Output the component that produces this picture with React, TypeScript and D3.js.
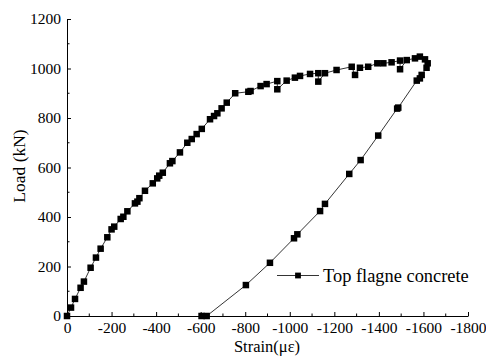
import React, { useRef, useEffect } from "react";
import * as d3 from "d3";

// strain (με) and load (kN) in loading order
const strain = [
  0, -18, -36, -61, -76, -106, -130, -151, -181, -200, -212, -241, -253, -271, -305, -316,
  -325, -350, -385, -405, -414, -430, -462, -473, -507, -540, -560, -582, -605, -642, -660,
  -675, -694, -717, -755, -814, -824, -869, -896, -944, -944, -986, -1023, -1046, -1091,
  -1128, -1128, -1158, -1210, -1278, -1293, -1315, -1352, -1393, -1420, -1457, -1495, -1495,
  -1525, -1562, -1584, -1607, -1619, -1614, -1592, -1584, -1570, -1487, -1482, -1397, -1318,
  -1267, -1158, -1136, -1034, -1019, -911, -803, -627, -604,
];
const load = [
  0, 34, 69, 114, 139, 195, 236, 272, 318, 350, 361, 392, 401, 423, 455, 462,
  476, 506, 536, 556, 567, 579, 617, 626, 661, 700, 715, 735, 756, 795, 808,
  819, 839, 862, 900, 906, 909, 929, 937, 949, 916, 951, 963, 970, 978,
  981, 947, 981, 994, 1007, 974, 1003, 1007, 1021, 1021, 1025, 1032, 997,
  1034, 1041, 1048, 1037, 1021, 1003, 974, 960, 951, 842, 838, 729, 630,
  574, 453, 424, 330, 314, 215, 125, 0, 0,
];
const xTicks = [0, -200, -400, -600, -800, -1000, -1200, -1400, -1600, -1800];
const yTicks = [0, 200, 400, 600, 800, 1000, 1200];
const seriesName = "Top flagne concrete";

const FONT = "Liberation Serif";

export default function App() {
  const ref = useRef<SVGSVGElement>(null);

  useEffect(() => {
    if (!ref.current) return;
    const svg = d3.select(ref.current);
    svg.selectAll("*").remove();

    const x = d3.scaleLinear().domain([0, -1800]).range([67, 468]);
    const y = d3.scaleLinear().domain([0, 1200]).range([316, 19]);

    const pts = strain.map((s, i) => ({ s, l: load[i] }));

    // axes
    const xAxis = d3.axisBottom(x).tickValues(xTicks).tickSizeInner(-4).tickSizeOuter(0).tickPadding(4)
      .tickFormat(d => String(d));
    const yAxis = d3.axisLeft(y).tickValues(yTicks).tickSizeInner(-4).tickSizeOuter(0).tickPadding(6)
      .tickFormat(d => String(d));

    const gx = svg.append("g").attr("transform", `translate(0,${y(0)})`).call(xAxis);
    const gy = svg.append("g").attr("transform", `translate(${x(0)},0)`).call(yAxis);
    [gx, gy].forEach(g => {
      g.attr("font-family", FONT).attr("font-size", 15.5);
      g.selectAll("text").attr("fill", "#000");
      g.selectAll("line,path").attr("stroke", "#000");
    });
    gx.selectAll("text").attr("dy", "0.82em");

    // minor ticks
    d3.range(-100, -1800, -200).forEach(v => {
      svg.append("line").attr("x1", x(v)).attr("x2", x(v))
        .attr("y1", y(0)).attr("y2", y(0) - 2.5).attr("stroke", "#000");
    });
    d3.range(100, 1200, 200).forEach(v => {
      svg.append("line").attr("x1", x(0)).attr("x2", x(0) + 2.5)
        .attr("y1", y(v)).attr("y2", y(v)).attr("stroke", "#000");
    });

    // line
    const line = d3.line<{ s: number; l: number }>().x(d => x(d.s)).y(d => y(d.l));
    svg.append("path").datum(pts).attr("fill", "none").attr("stroke", "#000")
      .attr("stroke-width", 0.8).attr("d", line);

    const m = 6.5;
    svg.append("g").selectAll("rect").data(pts).join("rect")
      .attr("x", d => x(d.s) - m / 2).attr("y", d => y(d.l) - m / 2)
      .attr("width", m).attr("height", m).attr("fill", "#000");

    // legend
    const lm = 5.8;
    const lg = svg.append("g").attr("transform", "translate(277,275.5)");
    lg.append("line").attr("x1", 0).attr("x2", 42).attr("stroke", "#000").attr("stroke-width", 0.8);
    lg.append("rect").attr("x", 21 - lm / 2).attr("y", -lm / 2).attr("width", lm).attr("height", lm);
    lg.append("text").attr("x", 46).attr("y", 6).text(seriesName)
      .attr("font-family", FONT).attr("font-size", 18.4);

    // axis titles
    svg.append("text").attr("x", 267).attr("y", 352).attr("text-anchor", "middle")
      .attr("font-family", FONT).attr("font-size", 16.5).text("Strain(με)");
    svg.append("text").attr("transform", "translate(25,166) rotate(-90)").attr("text-anchor", "middle")
      .attr("font-family", FONT).attr("font-size", 17.5).text("Load (kN)");
  }, []);

  return (
    <svg ref={ref} width={486} height={356}
      style={{ position: "absolute", left: 0, top: 0, background: "#fff" }} />
  );
}
